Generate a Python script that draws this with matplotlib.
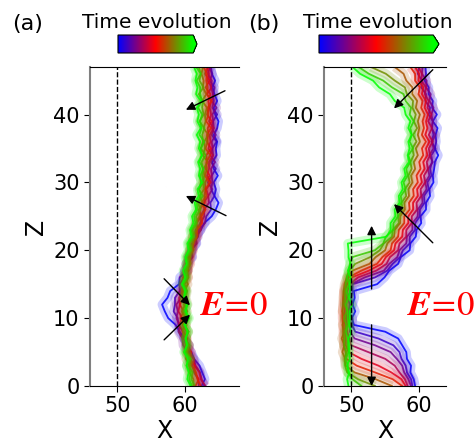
import matplotlib
matplotlib.use('Agg')
import matplotlib.pyplot as plt
import numpy as np
from matplotlib.colors import LinearSegmentedColormap, Normalize
from matplotlib.cm import ScalarMappable

# height along the channel, one sample per unit
z_vals = list(range(48))

# panel (a): interface position X(z) for successive times (early -> late)
xa = [
    [62.4, 62.9, 62.5, 62.1, 61.3, 60.9, 60.1, 59.9, 59.2, 58.6, 57.5, 57.0,
     56.6, 57.4, 57.8, 59.1, 59.2, 60.3, 60.1, 61.0, 60.9, 61.7, 61.5, 62.3,
     62.8, 63.9, 64.5, 64.9, 64.3, 64.5, 64.2, 64.8, 64.2, 64.0, 64.6, 64.5,
     64.7, 64.2, 64.7, 64.9, 64.4, 64.2, 64.7, 64.3, 64.0, 64.4, 63.9, 63.8],
    [62.8, 62.4, 62.2, 61.5, 61.3, 60.6, 60.6, 59.8, 59.7, 59.0, 58.9, 58.3,
     58.5, 58.5, 59.2, 59.2, 59.9, 59.9, 60.5, 60.4, 61.1, 61.1, 61.9, 62.0,
     62.9, 63.1, 63.8, 63.7, 64.3, 63.8, 64.0, 63.9, 64.5, 63.8, 64.1, 64.0,
     64.6, 63.9, 64.2, 64.1, 64.7, 64.0, 64.2, 64.1, 64.3, 63.6, 64.0, 63.5],
    [62.0, 61.9, 61.3, 61.1, 60.5, 60.4, 59.7, 59.6, 59.0, 59.2, 58.7, 58.9,
     58.7, 59.4, 59.2, 59.8, 59.7, 60.4, 60.4, 61.1, 60.9, 61.6, 61.6, 62.3,
     62.2, 62.8, 62.8, 63.5, 63.4, 64.0, 63.3, 63.9, 63.8, 64.4, 63.7, 64.0,
     63.9, 64.5, 63.9, 64.1, 64.0, 64.6, 63.9, 64.1, 63.8, 63.9, 63.3, 63.7],
    [63.0, 62.3, 62.1, 61.4, 61.2, 60.4, 60.6, 59.8, 59.8, 59.1, 59.6, 59.0,
     59.2, 59.1, 59.7, 59.6, 60.2, 59.9, 60.6, 60.4, 61.0, 61.0, 61.6, 61.5,
     62.3, 62.2, 62.8, 62.7, 63.4, 63.1, 63.8, 63.2, 63.5, 63.5, 64.1, 63.4,
     63.7, 63.6, 64.2, 63.5, 63.8, 63.6, 63.8, 63.2, 63.9, 63.3, 63.5, 63.2],
    [61.5, 62.0, 61.4, 61.4, 60.7, 60.9, 60.1, 60.3, 59.7, 59.8, 59.3, 59.8,
     59.2, 59.7, 59.5, 59.8, 59.7, 60.4, 60.1, 60.7, 60.7, 61.3, 61.1, 61.8,
     61.7, 62.3, 62.1, 62.9, 62.8, 63.0, 62.9, 63.6, 63.0, 63.2, 63.1, 63.8,
     63.2, 63.4, 63.3, 63.9, 63.2, 63.5, 63.4, 63.7, 63.0, 63.6, 62.9, 63.4],
    [62.3, 61.8, 61.6, 60.9, 60.8, 60.3, 60.4, 60.1, 60.2, 59.6, 60.1, 59.5,
     60.0, 59.8, 60.1, 59.9, 60.5, 60.2, 60.8, 60.6, 61.2, 61.1, 61.8, 61.7,
     62.5, 62.4, 63.0, 62.4, 63.1, 63.0, 63.6, 62.9, 63.2, 63.1, 63.7, 63.0,
     63.3, 63.2, 63.8, 63.1, 63.4, 63.3, 63.9, 63.2, 63.3, 63.1, 63.2, 62.7],
    [61.2, 61.2, 60.6, 60.7, 60.1, 60.3, 60.1, 60.2, 59.6, 60.2, 59.7, 60.3,
     59.8, 60.0, 59.8, 60.4, 59.9, 60.5, 60.3, 60.8, 60.6, 61.2, 61.0, 61.7,
     61.5, 62.1, 62.0, 62.6, 62.1, 62.8, 62.6, 62.8, 62.7, 63.3, 62.6, 62.9,
     62.8, 63.4, 62.7, 63.0, 62.9, 63.2, 62.5, 63.1, 62.6, 62.7, 62.4, 62.6],
    [61.4, 60.9, 61.1, 60.5, 60.8, 60.1, 60.6, 60.0, 60.5, 59.9, 60.4, 59.8,
     60.4, 60.1, 60.3, 59.8, 60.4, 60.2, 60.5, 60.3, 60.9, 60.7, 61.3, 61.1,
     61.7, 61.6, 62.2, 61.9, 62.6, 62.0, 62.7, 62.5, 62.6, 62.4, 63.0, 62.3,
     62.6, 62.5, 62.8, 62.1, 62.7, 62.5, 62.6, 62.0, 62.7, 62.1, 62.3, 62.0],
    [61.0, 60.6, 60.8, 60.2, 60.7, 60.0, 60.2, 60.0, 60.5, 59.8, 60.3, 60.0,
     60.1, 59.9, 60.2, 59.7, 60.2, 60.0, 60.3, 60.2, 60.7, 60.5, 61.1, 60.9,
     61.5, 61.3, 61.8, 61.7, 62.3, 62.1, 62.3, 62.2, 62.7, 62.1, 62.4, 62.3,
     62.8, 62.1, 62.4, 62.2, 62.5, 61.9, 62.4, 62.2, 62.2, 61.7, 62.3, 61.6],
    [60.8, 60.3, 60.5, 60.2, 60.4, 59.8, 60.3, 60.1, 60.3, 60.0, 60.6, 60.1,
     60.3, 59.8, 60.0, 59.5, 60.0, 59.7, 60.2, 60.0, 60.5, 60.3, 60.9, 60.7,
     61.2, 61.0, 61.6, 61.4, 62.0, 61.8, 62.5, 62.0, 62.2, 61.9, 62.5, 62.0,
     62.2, 61.7, 62.3, 61.8, 62.0, 61.7, 62.3, 61.6, 61.8, 61.5, 61.7, 61.3],
]

# panel (b)
xb = [
    [59.4, 59.2, 58.7, 58.8, 58.2, 58.1, 57.5, 56.9, 55.0, 50.4, 50.1, 50.6,
     50.2, 50.5, 50.4, 53.8, 54.9, 55.6, 56.9, 57.3, 58.6, 58.7, 59.5, 59.6,
     60.3, 60.2, 61.0, 61.0, 61.6, 61.5, 62.1, 62.0, 62.2, 62.3, 62.8, 62.3,
     62.5, 62.4, 62.7, 62.0, 62.6, 61.9, 62.0, 61.4, 61.4, 60.8, 61.0, 60.9],
    [59.0, 58.8, 58.2, 58.0, 57.4, 57.1, 56.2, 54.0, 50.6, 50.1, 50.2, 49.7,
     50.2, 50.0, 50.2, 50.2, 53.5, 55.3, 56.1, 57.2, 57.6, 58.6, 58.6, 59.4,
     59.4, 60.1, 60.1, 60.8, 60.7, 61.4, 61.2, 61.8, 61.6, 61.9, 61.8, 62.4,
     61.8, 62.1, 61.9, 62.0, 61.4, 61.6, 60.9, 61.0, 60.3, 60.4, 59.8, 60.0],
    [58.8, 58.4, 57.8, 57.5, 56.7, 55.8, 53.5, 50.5, 49.8, 49.9, 49.6, 49.6,
     49.8, 49.5, 49.9, 50.0, 52.0, 54.8, 55.6, 56.8, 57.1, 58.1, 58.2, 59.0,
     59.0, 59.8, 59.8, 60.5, 60.4, 61.1, 60.9, 61.5, 61.3, 62.0, 61.5, 62.1,
     61.9, 62.4, 61.8, 62.0, 61.8, 62.1, 61.5, 61.7, 61.0, 61.1, 60.4, 60.5],
    [58.3, 57.9, 57.1, 56.4, 55.0, 52.5, 50.0, 49.7, 49.4, 49.4, 49.3, 49.3,
     49.3, 49.4, 49.4, 49.8, 51.0, 53.7, 55.2, 55.7, 56.9, 57.1, 58.1, 58.1,
     58.9, 58.9, 59.7, 59.6, 60.3, 60.2, 60.9, 60.7, 61.3, 61.1, 61.6, 61.4,
     62.0, 61.4, 61.9, 61.3, 61.8, 61.2, 61.4, 60.8, 61.0, 60.3, 60.4, 59.9],
    [58.0, 57.4, 55.9, 54.0, 51.5, 49.6, 49.2, 49.2, 49.1, 49.1, 49.0, 49.0,
     49.0, 49.1, 49.1, 49.4, 50.1, 52.6, 54.5, 55.1, 56.3, 56.5, 57.5, 57.6,
     58.4, 58.4, 59.1, 59.1, 59.8, 59.7, 60.4, 60.2, 60.8, 60.6, 61.2, 61.0,
     61.5, 60.9, 61.2, 61.0, 61.3, 60.8, 61.0, 60.4, 60.6, 59.9, 60.0, 59.4],
    [57.5, 56.1, 53.5, 50.8, 49.3, 49.2, 48.9, 48.9, 48.8, 48.8, 48.7, 48.7,
     48.8, 48.9, 48.9, 49.3, 49.6, 51.5, 53.8, 54.6, 55.8, 56.0, 56.9, 57.0,
     57.8, 57.8, 58.6, 58.5, 59.2, 59.1, 59.8, 59.6, 60.2, 60.0, 60.6, 60.4,
     61.0, 60.4, 60.7, 60.5, 60.8, 60.3, 60.5, 59.9, 60.1, 59.4, 59.4, 58.7],
    [56.0, 53.6, 50.5, 49.2, 49.1, 48.7, 49.0, 48.6, 49.0, 48.7, 49.1, 48.7,
     48.8, 48.8, 48.9, 49.0, 49.4, 50.2, 52.7, 53.6, 55.0, 55.3, 56.3, 56.4,
     57.2, 57.2, 57.9, 57.8, 58.5, 58.4, 59.0, 58.8, 59.4, 59.2, 59.8, 59.5,
     60.1, 59.8, 60.0, 59.8, 60.1, 59.5, 59.7, 59.0, 59.0, 58.1, 57.7, 56.4],
    [53.5, 51.0, 49.4, 49.1, 49.0, 49.3, 48.9, 49.0, 49.0, 49.3, 48.9, 49.4,
     49.0, 49.1, 49.1, 49.2, 49.3, 49.7, 50.6, 52.8, 54.2, 54.8, 56.0, 56.1,
     57.0, 56.9, 57.6, 57.4, 58.1, 57.9, 58.6, 58.4, 58.9, 58.7, 59.2, 59.0,
     59.6, 59.1, 59.7, 59.2, 59.5, 59.0, 59.1, 58.2, 57.9, 56.4, 55.1, 52.9],
    [51.5, 50.2, 49.5, 49.5, 49.2, 49.6, 49.5, 49.5, 49.2, 49.6, 49.5, 49.5,
     49.2, 49.6, 49.3, 49.7, 49.4, 49.7, 49.8, 50.2, 53.5, 54.7, 55.1, 56.2,
     56.2, 56.9, 56.7, 57.4, 57.3, 58.0, 57.7, 58.3, 58.1, 58.7, 58.4, 59.1,
     58.6, 58.9, 58.7, 59.2, 58.6, 58.8, 58.0, 57.7, 56.0, 54.7, 52.6, 51.1],
    [49.6, 49.4, 49.7, 49.4, 49.8, 49.7, 49.7, 49.6, 50.0, 49.7, 49.8, 49.8,
     50.1, 49.7, 49.8, 49.8, 49.9, 49.5, 49.9, 49.6, 49.6, 49.5, 55.2, 55.8,
     55.8, 56.5, 56.4, 57.1, 57.0, 57.6, 57.4, 58.0, 57.8, 58.5, 58.3, 58.6,
     58.4, 58.9, 58.4, 58.7, 58.0, 57.8, 56.4, 55.7, 54.1, 53.2, 51.3, 50.2],
]

# arrows (tail, head) in data coords
arrows_a = [((65.85, 43.5), (60.1, 40.7)), ((66.0, 25.1), (60.1, 28.0)),
            ((56.9, 15.8), (60.7, 11.9)), ((56.9, 6.8), (60.7, 10.5))]
arrows_b = [((62.0, 46.6), (56.3, 40.9)), ((62.0, 21.1), (56.3, 26.8)),
            ((53.0, 14.3), (53.0, 23.6)), ((53.0, 9.0), (53.0, 0.0))]

wall_x = 50
xticks = [50, 60]
zticks = [0, 10, 20, 30, 40]

cmap = LinearSegmentedColormap.from_list('time', ['#0000ff', '#ff0000', '#00ff00'])

fig = plt.figure(figsize=(4.77, 4.43), dpi=100)
ax_a = fig.add_axes([90/477, 57/443, 149/477, 319/443])
ax_b = fig.add_axes([324/477, 57/443, 122/477, 319/443])


def draw_panel(ax, curves, arrows, xlim, etext_x):
    n = len(curves)
    for i, xs in enumerate(curves):
        c = cmap(i / (n - 1))
        ax.plot(xs, z_vals, color=c, lw=6.5, alpha=0.2, solid_joinstyle='round',
                solid_capstyle='butt')
        ax.plot(xs, z_vals, color=c, lw=1.3, alpha=0.85)
    ax.axvline(wall_x, color='k', ls='--', lw=1)
    for tail, head in arrows:
        ax.annotate('', xy=head, xytext=tail,
                    arrowprops=dict(arrowstyle='-|>', color='k', lw=1,
                                    mutation_scale=13, shrinkA=0, shrinkB=0))
    ax.text(etext_x, 12, r'$\boldsymbol{E}\!=\!0$', color='red', fontsize=25,
            va='center', ha='left', math_fontfamily='stix', clip_on=False)
    ax.set_xlim(*xlim)
    ax.set_ylim(0, 47)
    ax.set_xticks(xticks)
    ax.set_yticks(zticks)
    ax.tick_params(labelsize=15, length=4)
    ax.spines['right'].set_visible(False)
    ax.spines['left'].set_color('0.5')
    ax.spines['left'].set_linewidth(1.5)
    ax.set_xlabel('X', fontsize=17, labelpad=2)
    ax.set_ylabel('Z', fontsize=17, labelpad=4)


draw_panel(ax_a, xa, arrows_a, (46, 46 + 149/6.8), 62.2)
draw_panel(ax_b, xb, arrows_b, (46, 46 + 122/6.8), 58.2)

# colour bars for time
sm = ScalarMappable(norm=Normalize(0, 1), cmap=cmap)
for left, width, cx in [(118, 79, 157), (319, 120, 378)]:
    cax = fig.add_axes([left/477, 390/443, width/477, 18/443])
    cb = fig.colorbar(sm, cax=cax, orientation='horizontal', extend='max')
    cb.set_ticks([])
    cb.outline.set_linewidth(0.8)
    fig.text(cx/477, 1 - 23/443, 'Time evolution', fontsize=14.5,
             ha='center', va='center')
fig.text(28/477, 1 - 24/443, '(a)', fontsize=16, ha='center', va='center')
fig.text(264/477, 1 - 24/443, '(b)', fontsize=16, ha='center', va='center')

fig.savefig('out.png', dpi=100)
